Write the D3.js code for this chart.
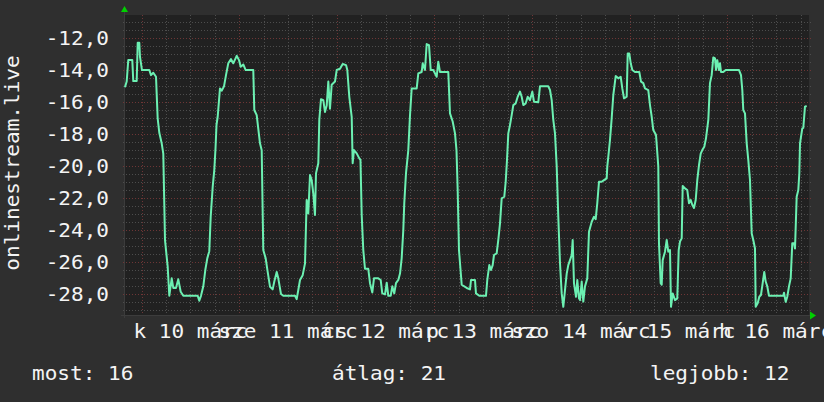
<!DOCTYPE html>
<html><head><meta charset="utf-8">
<script src="https://cdn.jsdelivr.net/npm/d3@7"></script>
<style>html,body{margin:0;padding:0;background:#2f2f2f;}svg{display:block}</style>
</head><body><svg id="c" width="824" height="402"></svg>
<script>
// hours since midnight, 10 March
const hours = [-4.11,-3.69,-3.30,-2.31,-2.07,-1.23,-0.98,-0.59,-0.42,0.07,1.87,2.29,2.85,3.52,3.93,4.33,4.92,5.31,5.73,6.39,6.79,7.38,7.77,8.43,9.00,9.59,10.23,13.77,14.16,14.58,15.15,15.64,16.13,16.62,16.97,17.46,17.85,18.15,18.40,18.69,19.25,19.67,20.24,20.73,21.29,21.96,22.52,23.36,23.93,24.34,24.98,25.57,27.44,27.69,28.28,29.09,29.51,29.90,30.49,30.98,31.55,32.21,32.61,33.20,33.59,34.25,34.82,37.70,38.11,38.51,38.93,39.59,40.16,40.57,40.97,41.39,41.80,42.20,42.61,42.86,43.43,43.67,44.09,44.66,45.07,45.49,45.89,46.30,46.72,47.53,47.95,48.76,49.43,50.24,50.56,51.05,51.64,51.88,52.20,52.87,53.51,53.80,54.10,54.49,54.91,55.72,56.14,56.71,57.12,58.18,58.77,59.16,59.83,60.25,60.64,61.23,61.62,62.11,62.53,63.10,63.52,63.93,64.33,64.57,64.99,65.16,65.56,65.98,66.39,67.62,68.02,68.85,69.10,69.66,70.08,70.65,71.07,71.70,72.54,72.93,73.35,75.39,75.81,76.47,77.04,77.41,77.70,78.02,78.69,79.92,80.73,80.98,81.96,82.20,83.01,84.66,84.98,85.48,85.89,86.31,86.63,87.29,87.69,88.11,88.52,89.16,89.51,89.83,90.15,90.56,90.98,91.38,91.97,92.46,93.02,93.44,93.84,94.43,94.92,95.48,96.05,96.47,97.52,97.94,99.98,100.40,100.82,101.21,101.63,102.05,102.44,102.86,103.28,103.67,104.09,104.51,104.90,105.32,105.74,105.98,106.30,106.80,107.11,107.53,107.78,108.20,108.59,109.01,109.57,109.99,110.66,111.22,111.64,112.03,112.45,113.11,113.68,114.34,114.49,114.74,115.15,115.57,115.97,116.56,117.20,117.79,118.18,118.60,119.26,119.51,119.90,120.25,120.64,121.30,122.36,122.78,123.34,123.76,124.57,124.99,125.41,125.80,126.47,127.03,127.20,127.62,127.87,128.11,128.68,129.10,129.49,129.91,130.16,130.57,131.14,131.70,132.05,132.37,132.79,133.03,133.60,134.16,134.58,135.00,135.39,135.81,136.23,136.62,137.04,137.46,137.85,138.34,138.76,139.33,139.74,140.16,140.56,140.98,141.22,141.54,141.96,142.20,142.45,143.02,143.61,146.88,147.37,147.69,147.93,148.35,148.77,149.16,149.58,150.00,150.39,150.81,150.98,151.47,151.87,152.28,152.70,153.09,153.44,153.83,154.25,157.77,157.94,158.36,158.75,159.17,159.59,159.98,160.40,160.65,161.06,161.46,161.71,161.88,162.44,162.69,163.10,163.52];
const temps = [-15.06,-14.7,-13.36,-13.36,-14.67,-14.67,-12.27,-12.27,-13.15,-13.98,-13.98,-14.3,-14.15,-14.4,-17.0,-17.9,-18.56,-19.2,-24.6,-26.27,-28.09,-27.0,-27.6,-27.6,-27.06,-27.84,-28.09,-28.09,-28.4,-28.09,-27.5,-26.48,-25.75,-25.3,-23.15,-21.28,-20.23,-18.9,-17.4,-16.9,-15.13,-15.27,-15.0,-14.3,-13.56,-13.3,-13.56,-13.09,-13.36,-13.77,-13.63,-13.98,-13.98,-16.48,-16.8,-18.56,-19.0,-25.23,-25.75,-26.6,-27.52,-27.69,-27.2,-26.6,-27.0,-27.98,-28.09,-28.09,-28.3,-27.73,-27.1,-26.8,-26.06,-22.1,-22.94,-20.54,-20.86,-21.7,-23.04,-20.44,-19.8,-17.1,-15.8,-15.86,-16.6,-16.2,-14.7,-16.4,-14.9,-14.7,-13.98,-13.9,-13.6,-13.67,-13.98,-15.65,-16.9,-19.8,-18.98,-19.19,-19.5,-19.6,-23.04,-25.23,-26.4,-26.4,-27.3,-27.88,-27.0,-27.0,-27.1,-27.94,-28.0,-27.27,-28.09,-28.09,-27.5,-27.94,-27.3,-27.1,-26.7,-25.75,-23.98,-22.3,-20.44,-20.0,-18.98,-16.8,-15.13,-15.13,-14.19,-14.1,-13.56,-13.98,-12.36,-12.42,-13.98,-13.98,-14.4,-13.46,-14.1,-14.1,-16.69,-17.2,-17.94,-19.0,-21.48,-25.23,-27.4,-27.6,-27.69,-27.1,-27.1,-27.94,-28.09,-28.09,-27.1,-26.17,-26.48,-26.17,-25.54,-25.44,-24.6,-23.56,-22.0,-21.9,-20.96,-19.6,-17.94,-17.42,-16.8,-16.17,-16.06,-15.65,-15.33,-15.65,-16.17,-16.06,-15.65,-15.86,-15.33,-15.96,-16.0,-15.0,-15.0,-15.23,-15.86,-17.1,-17.94,-20.0,-23.15,-26.06,-27.94,-28.78,-27.73,-26.7,-26.17,-25.86,-25.54,-24.6,-27.3,-28.15,-27.1,-28.25,-28.36,-27.2,-28.45,-27.5,-27.0,-24.08,-23.46,-23.15,-23.3,-22.3,-20.96,-20.96,-20.86,-20.75,-20.0,-19.4,-18.36,-17.0,-15.54,-14.36,-14.5,-14.4,-15.13,-15.75,-15.65,-12.94,-12.94,-13.56,-13.98,-14.1,-14.1,-14.7,-14.8,-15.13,-15.23,-16.17,-16.9,-17.73,-18.04,-20.0,-24.8,-27.3,-27.4,-25.86,-25.33,-24.6,-25.33,-25.23,-28.78,-27.94,-28.36,-28.25,-25.23,-24.7,-24.5,-21.23,-21.38,-21.48,-22.3,-22.1,-22.4,-22.6,-22.1,-20.86,-19.92,-19.2,-18.98,-18.78,-18.25,-17.1,-14.8,-14.3,-13.19,-13.25,-13.98,-13.36,-13.98,-13.56,-14.1,-14.1,-13.98,-13.98,-14.3,-15.23,-16.48,-16.69,-18.56,-19.6,-20.86,-24.2,-24.6,-25.13,-28.78,-28.56,-28.15,-28.04,-27.3,-26.6,-27.2,-27.5,-28.09,-28.09,-27.9,-28.47,-28.15,-27.5,-27.0,-24.8,-24.8,-25.13,-21.9,-21.48,-20.44,-18.56,-17.63,-17.6,-16.27,-16.23];
const dayLabels = ["k 10 márc","sze 11 márc","cs 12 márc","p 13 márc","szo 14 márc","v 15 márc","h 16 márc"];
const dayLabelHours = [12,36,60,84,108,132,156];
const yTicks = [-28,-26,-24,-22,-20,-18,-16,-14,-12];
const axisTitle = "onlinestream.live";
const legendTexts = ["most: 16","átlag: 21","legjobb: 12"];

const svg = d3.select("#c");
const W = 824, H = 402;
const L = 124, R = 809, T = 15, B = 315;
const FONT = "DejaVu Sans Mono", FS = 19.5, SX = 1.08;
const x = d3.scaleLinear().domain([-4.35, 164.09]).range([L, R]);
const y = d3.scaleLinear().domain([-29.29, -10.54]).range([B, T]);
const fmt = v => d3.format(".1f")(v).replace(".", ",").replace("−","-");

svg.append("rect").attr("width", W).attr("height", H).attr("fill", "#2f2f2f");
svg.append("rect").attr("x", L).attr("y", T).attr("width", R - L).attr("height", B - T).attr("fill", "#212121");

const g = svg.append("g");
const snap = v => Math.round(v) + 0.5;
// minor horizontal grid
const minorY = d3.range(-29, -10.6, 0.5).filter(v => Math.abs(v % 2) > 1e-6);
g.selectAll(".mhy").data(minorY).enter().append("line")
  .attr("x1", L - 1).attr("x2", R + 2).attr("y1", d => snap(y(d))).attr("y2", d => snap(y(d)))
  .attr("stroke", "#4d4d4d").attr("stroke-dasharray", "1,2");
// minor vertical grid
const minorX = d3.range(-0, 166, 6).filter(h => h % 24 !== 0);
g.selectAll(".mvx").data(minorX).enter().append("line")
  .attr("y1", T).attr("y2", B + 3).attr("x1", d => snap(x(d))).attr("x2", d => snap(x(d)))
  .attr("stroke", "#4d4d4d").attr("stroke-dasharray", "1,2");
// major grid
g.selectAll(".Mhy").data(yTicks).enter().append("line")
  .attr("x1", L - 1).attr("x2", R + 2).attr("y1", d => snap(y(d))).attr("y2", d => snap(y(d)))
  .attr("stroke", "#6e3636").attr("stroke-dasharray", "1,2");
const majorX = d3.range(0, 166, 24);
g.selectAll(".Mvx").data(majorX).enter().append("line")
  .attr("y1", T).attr("y2", B + 3).attr("x1", d => snap(x(d))).attr("x2", d => snap(x(d)))
  .attr("stroke", "#6e3636").attr("stroke-dasharray", "1,2");

// axes
svg.append("line").attr("x1", L - 3).attr("x2", R + 3).attr("y1", B + 0.5).attr("y2", B + 0.5).attr("stroke", "#3c3c3c");
svg.append("line").attr("x1", L + 0.5).attr("x2", L + 0.5).attr("y1", T - 4).attr("y2", B + 3).attr("stroke", "#3c3c3c");
// arrows
svg.append("path").attr("d", `M${L - 3},${T - 3} L${L + 4},${T - 3} L${L + 0.5},${T - 9} Z`).attr("fill", "#00d000");
svg.append("path").attr("d", `M${R + 1},${B - 3.5} L${R + 1},${B + 4.5} L${R + 7},${B + 0.5} Z`).attr("fill", "#00d000");

// data line
const pts = hours.map((h, i) => [h, temps[i]]);
svg.append("path").datum(pts)
  .attr("d", d3.line().x(d => x(d[0])).y(d => y(d[1])))
  .attr("fill", "none").attr("stroke", "#6cf0b2").attr("stroke-width", 2).attr("stroke-linejoin", "round");

// text helper
function txt(s, tx, ty, anchor, rot) {
  const t = svg.append("text")
    .attr("transform", `translate(${tx},${ty})` + (rot ? ` rotate(${rot})` : "") + ` scale(${SX},1)`)
    .attr("text-anchor", anchor).attr("font-family", FONT).attr("font-size", FS)
    .attr("fill", "#f4f4f4").text(s);
  return t;
}
yTicks.forEach(v => txt(fmt(v), 109, y(v) + 7, "end"));
dayLabels.forEach((s, i) => txt(s, x(dayLabelHours[i]), 338, "middle"));
txt(axisTitle, 19, 163, "middle", -90);
txt(legendTexts[0], 32, 380, "start");
txt(legendTexts[1], 332, 380, "start");
txt(legendTexts[2], 650, 380, "start");
</script></body></html>
